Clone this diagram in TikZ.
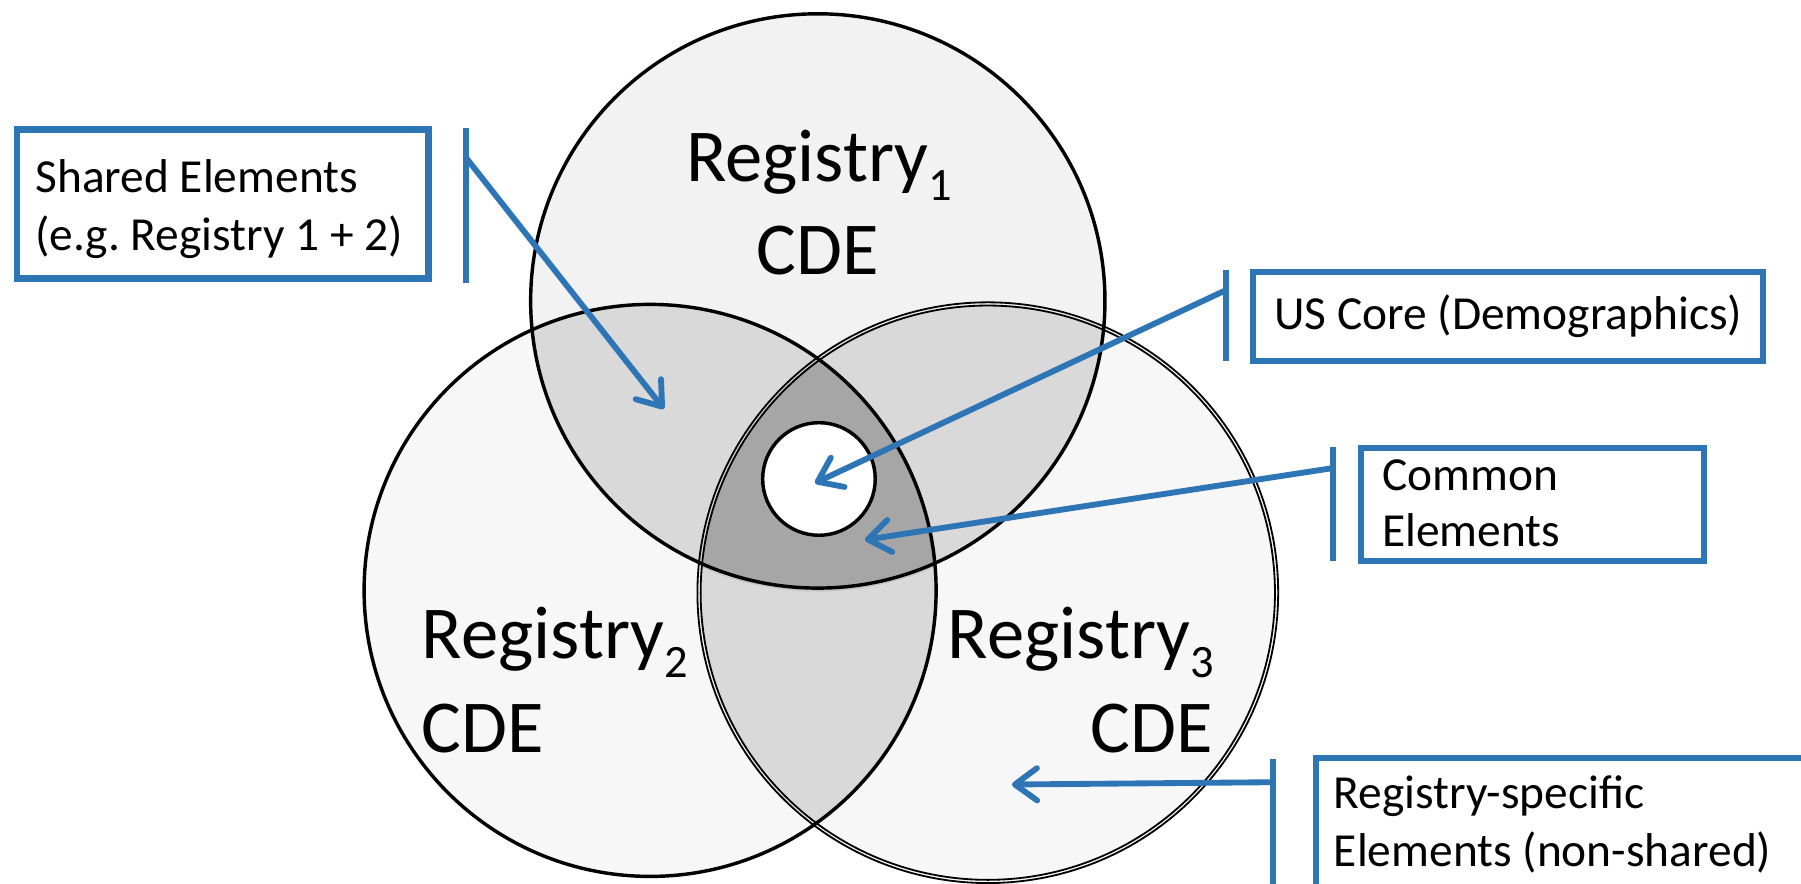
\documentclass[tikz,border=0pt]{standalone}
\usepackage{fontspec}
\setmainfont{Carlito}
\usetikzlibrary{arrows.meta}
\definecolor{callblue}{HTML}{2E75B6}
\definecolor{topfill}{HTML}{F2F2F2}
\definecolor{lowfill}{HTML}{F7F7F7}
\definecolor{pairfill}{HTML}{D9D9D9}
\definecolor{corefill}{HTML}{A6A6A6}
% lowered index digit after "Registry"
\newcommand\regidx[1]{\raisebox{-0.26em}{\fontsize{23}{23}\selectfont #1}}
\frenchspacing

\begin{document}
\begin{tikzpicture}[x=0.02cm,y=-0.02cm,
  ring/.style={draw=black,line width=1.7pt},
  thinring/.style={draw=black,line width=0.9pt},
  calloutbox/.style={draw=callblue,line width=3.2pt},
  calloutbar/.style={draw=callblue,line width=3.0pt},
  pointer/.style={draw=callblue,line width=2.9pt,line cap=round,
    -{Straight Barb[length=11pt,width=16pt,round]}},
  smalltxt/.style={anchor=base west,inner sep=0pt,font=\fontsize{23.5}{28}\selectfont},
  bigtxt/.style={inner sep=0pt,font=\fontsize{37}{46}\selectfont}]

\useasboundingbox (0,0) rectangle (1568,769);
\clip (0,0) rectangle (1568,769);
\fill[white] (0,0) rectangle (1568,769);

% circle centres
\coordinate (c1) at (712,262);
\coordinate (c2) at (566,514);
\coordinate (c3) at (860,516);
\def\rA{250}\def\rB{249}\def\rC{250}

% base fills
\fill[topfill] (c1) circle (\rA);
\fill[lowfill] (c2) circle (\rB);
\fill[lowfill] (c3) circle (\rC);

% pairwise overlaps
\begin{scope}
  \clip (c1) circle (\rA);
  \fill[pairfill] (c2) circle (\rB);
  \fill[pairfill] (c3) circle (\rC);
\end{scope}
\begin{scope}
  \clip (c2) circle (\rB);
  \fill[pairfill] (c3) circle (\rC);
\end{scope}

% soft shade under the common region
\begin{scope}
  \clip (c2) circle (\rB);
  \clip (c3) circle (\rC);
  \fill[gray!55,opacity=0.6] ([yshift=-3*0.02cm]c1) circle (\rA);
\end{scope}

% common region of all three
\begin{scope}
  \clip (c1) circle (\rA);
  \clip (c2) circle (\rB);
  \fill[corefill] (c3) circle (\rC);
\end{scope}

% outlines
\draw[ring] (c1) circle (\rA);
\draw[ring] (c2) circle (\rB);
\draw[thinring] (c3) circle (\rC);
\draw[thinring] (c3) circle (\rC+2.8);

% US core disc
\coordinate (core) at (713,417);
\draw[ring,fill=white] (core) circle (49);

% circle labels
\node[bigtxt,anchor=base] (reg1) at (713,158) {Registry\regidx{1}};
\node[bigtxt,anchor=base] (cde1) at (712,239) {CDE};
\node[bigtxt,anchor=base west] (reg2) at (367,573) {Registry\regidx{2}};
\node[bigtxt,anchor=base west] (cde2) at (367,655) {CDE};
\node[bigtxt,anchor=base east] (reg3) at (1057,573) {Registry\regidx{3}};
\node[bigtxt,anchor=base east] (cde3) at (1056,655) {CDE};

% callout: shared elements
\draw[calloutbox] (14.8,112.8) rectangle (373.2,242.5);
\node[smalltxt] (sharedA) at (30.5,168) {Shared Elements};
\node[smalltxt] (sharedB) at (30.5,218) {(e.g. Registry 1 + 2)};
\coordinate (barAtop) at (405.5,111);
\coordinate (barAbot) at (405.5,246);
\draw[calloutbar] (barAtop) -- (barAbot);
\coordinate (fromA) at (405.5,137);
\coordinate (tipA) at (578,356);
\draw[pointer] (fromA) -- (tipA);

% callout: US core
\draw[calloutbox] (1090.8,236.8) rectangle (1535,314.2);
\node[smalltxt] (uscore) at (1109,287) {US Core (Demographics)};
\coordinate (barBtop) at (1067.5,235);
\coordinate (barBbot) at (1067.5,314);
\draw[calloutbar] (barBtop) -- (barBbot);
\coordinate (fromB) at (1067.5,252.5);
\coordinate (tipB) at (709.5,420.5);
\draw[pointer] (fromB) -- (tipB);

% callout: common elements
\draw[calloutbox] (1184.8,389.8) rectangle (1483.5,488.5);
\node[smalltxt] (commonA) at (1203,427) {Common};
\node[smalltxt] (commonB) at (1203,476) {Elements};
\coordinate (barCtop) at (1160.5,389);
\coordinate (barCbot) at (1160.5,488);
\draw[calloutbar] (barCtop) -- (barCbot);
\coordinate (fromC) at (1160.5,407.5);
\coordinate (tipC) at (753,470);
\draw[pointer] (fromC) -- (tipC);

% callout: registry-specific elements
\draw[calloutbox] (1145.8,659.8) rectangle (1620,820);
\node[smalltxt] (specA) at (1161,704) {Registry-specific};
\node[smalltxt] (specB) at (1161,754) {Elements (non-shared)};
\coordinate (barDtop) at (1108,661);
\coordinate (barDbot) at (1108,790);
\draw[calloutbar] (barDtop) -- (barDbot);
\coordinate (fromD) at (1108,681);
\coordinate (tipD) at (881,683);
\draw[pointer] (fromD) -- (tipD);

\end{tikzpicture}
\end{document}
